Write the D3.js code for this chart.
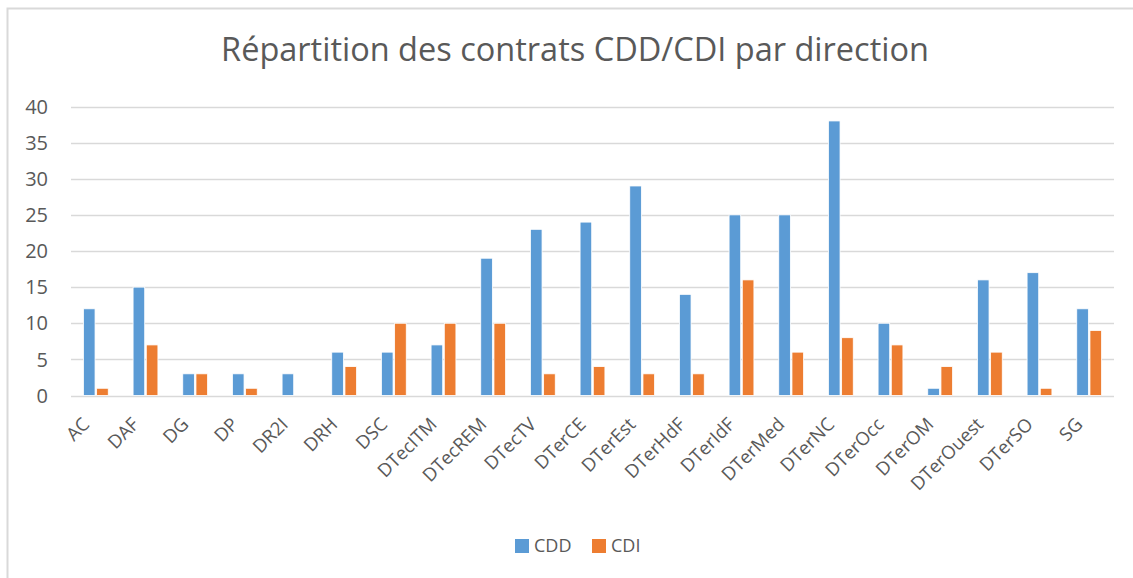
<!DOCTYPE html>
<meta charset="utf-8">
<script src="https://d3js.org/d3.v7.min.js"></script>
<style>
  body { margin: 0; background: #fff; }
  text { font-family: "Open Sans", sans-serif; fill: #595959; }
</style>
<svg id="chart" width="1133" height="578"></svg>
<script>

    // data
    var directions = ["AC", "DAF", "DG", "DP", "DR2I", "DRH", "DSC", "DTecITM", "DTecREM", "DTecTV",
        "DTerCE", "DTerEst", "DTerHdF", "DTerIdF", "DTerMed", "DTerNC", "DTerOcc", "DTerOM",
        "DTerOuest", "DTerSO", "SG"];
    var cdd = [12, 15, 3, 3, 3, 6, 6, 7, 19, 23, 24, 29, 14, 25, 25, 38, 10, 1, 16, 17, 12];
    var cdi = [1, 7, 3, 1, 0, 4, 10, 10, 10, 3, 4, 3, 3, 16, 6, 8, 7, 4, 6, 1, 9];
    var series = ["CDD", "CDI"];
    var colors = ["#5b9bd5", "#ed7d31"];
    var yTicks = [0, 5, 10, 15, 20, 25, 30, 35, 40];

    const svg = d3.select("#chart");

    // chart frame
    svg.append("rect")
        .attr("x", 7.5).attr("y", 8.5)
        .attr("width", 1140).attr("height", 580)
        .attr("fill", "none")
        .attr("stroke", "#d9d9d9")
        .attr("stroke-width", 2);

    const plotLeft = 71, plotRight = 1114, plotTop = 106.5, plotBottom = 395.5;

    const x = d3.scaleBand()
        .domain(directions)
        .range([plotLeft, plotRight])
        .paddingInner(0.5)
        .paddingOuter(0.25);

    const x1 = d3.scaleBand()
        .domain(series)
        .range([0, x.bandwidth()])
        .paddingInner(0.12);

    const y = d3.scaleLinear()
        .domain([0, 40])
        .range([plotBottom, plotTop]);

    // gridlines
    svg.append("g")
        .selectAll("line")
        .data(yTicks)
        .enter().append("line")
            .attr("x1", plotLeft).attr("x2", plotRight)
            .attr("y1", d => Math.round(y(d)) + 0.5)
            .attr("y2", d => Math.round(y(d)) + 0.5)
            .style("stroke", "#d9d9d9")
            .style("stroke-width", 1.5);

    // y labels
    svg.append("g")
        .selectAll("text")
        .data(yTicks)
        .enter().append("text")
            .attr("x", 48)
            .attr("y", d => y(d))
            .attr("dy", "0.36em")
            .attr("text-anchor", "end")
            .style("font-size", "20px")
            .text(d => d);

    // bars
    const rows = directions.map((d, i) => ({ name: d, values: [cdd[i], cdi[i]] }));

    const groups = svg.append("g")
        .selectAll("g")
        .data(rows)
        .enter().append("g")
            .attr("transform", d => "translate(" + x(d.name) + ",0)");

    groups.selectAll("rect")
        .data(d => d.values.map((v, k) => ({ key: series[k], value: v, color: colors[k] })).filter(d => d.value > 0))
        .enter().append("rect")
            .attr("x", d => x1(d.key))
            .attr("y", d => y(d.value))
            .attr("width", x1.bandwidth())
            .attr("height", d => y(0) - y(d.value))
            .attr("fill", d => d.color)
            .attr("stroke", "#fff")
            .attr("stroke-width", 0.8);

    // x labels, rotated
    svg.append("g")
        .selectAll("text")
        .data(directions)
        .enter().append("text")
            .attr("transform", d => "translate(" + (x(d) + x.bandwidth() / 2 - 10) + ",421) rotate(-45)")
            .attr("text-anchor", "end")
            .attr("dy", "0.35em")
            .style("font-size", "18.5px")
            .text(d => d);

    // title
    svg.append("text")
        .attr("x", 575)
        .attr("y", 61)
        .attr("text-anchor", "middle")
        .style("font-size", "32.5px")
        .text("Répartition des contrats CDD/CDI par direction");

    // legend
    const legend = svg.append("g")
        .selectAll("g")
        .data(series)
        .enter().append("g")
            .attr("transform", (d, i) => "translate(" + (515 + i * 77) + ",539)");

    legend.append("rect")
        .attr("width", 14).attr("height", 14)
        .attr("fill", (d, i) => colors[i]);

    legend.append("text")
        .attr("x", 19)
        .attr("y", 7)
        .attr("dy", "0.36em")
        .style("font-size", "18px")
        .text(d => d);

</script>
